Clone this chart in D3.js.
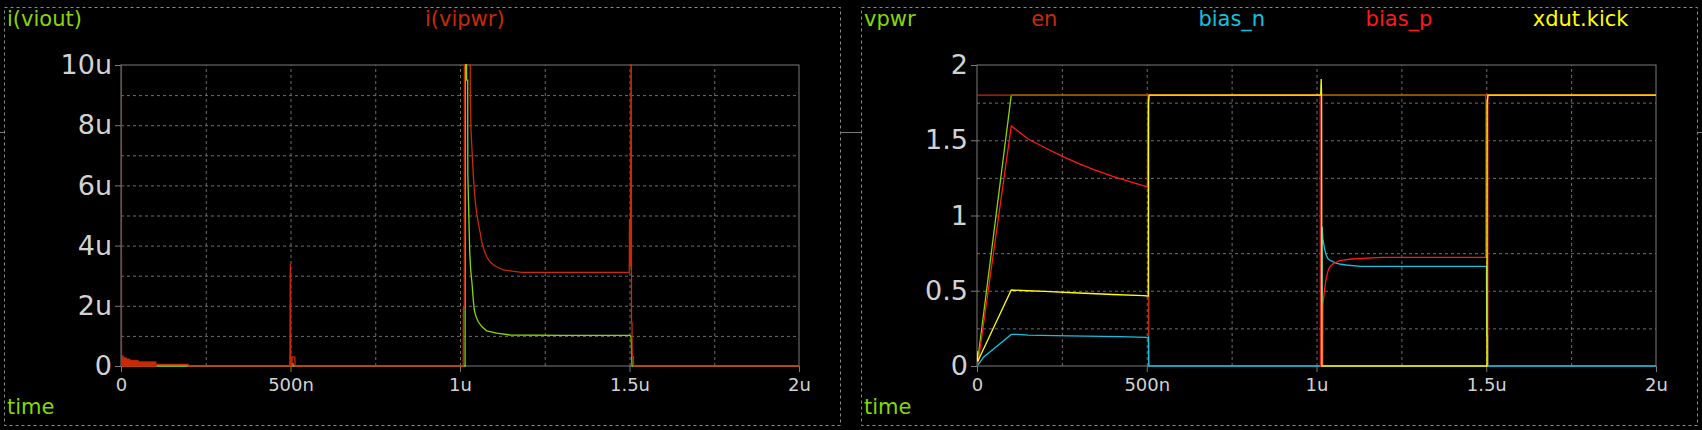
<!DOCTYPE html>
<html>
<head>
<meta charset="utf-8">
<script src="https://cdn.jsdelivr.net/npm/d3@7"></script>
<style>
  html, body { margin: 0; padding: 0; background: #000; }
  svg { display: block; }
  text { font-family: "DejaVu Sans", sans-serif; }
</style>
</head>
<body>
<svg id="chart" width="1702" height="430"></svg>
<script>
// ---------------- DATA (time in µs) ----------------
const xTicks = [0, 0.5, 1, 1.5, 2];
const xTickLabels = ["0", "500n", "1u", "1.5u", "2u"];
const xGrid = [0.25, 0.5, 0.75, 1, 1.25, 1.5, 1.75];

const leftYTicks = [0, 2, 4, 6, 8, 10];
const leftYTickLabels = ["0", "2u", "4u", "6u", "8u", "10u"];
const leftYGrid = [1, 2, 3, 4, 5, 6, 7, 8, 9];

const rightYTicks = [0, 0.5, 1, 1.5, 2];
const rightYTickLabels = ["0", "0.5", "1", "1.5", "2"];
const rightYGrid = [0.25, 0.5, 0.75, 1, 1.25, 1.5, 1.75];

const leftNames = ["i(viout)", "i(vipwr)"];
const rightNames = ["vpwr", "en", "bias_n", "bias_p", "xdut.kick"];

// left panel: currents in µA
const iViout = [[0,0],[0.5035,0],[0.504,0.09],[0.507,0.09],[0.5075,0],[1.015,0],[1.0156,12],[1.019,12],[1.0195,9.5],[1.0227,9.5],
  [1.023,6.4],[1.0265,4.79],[1.0286,3.8],[1.0316,3.19],[1.0354,2.75],[1.0392,2.19],[1.0422,1.86],[1.0472,1.64],[1.054,1.47],
  [1.064,1.31],[1.0788,1.17],[1.1083,1.09],[1.1475,1.03],[1.3,1.02],[1.5015,1.02],[1.505,0.95],[1.5074,0],[2,0]];
const iVipwr = [[0,0],[0.0001,12],[0.0012,12],[0.0015,0],[0.1032,0],[0.1035,0.05],[0.198,0.05],[0.199,0],[0.498,0],
  [0.4985,0.7],[0.4995,3.4],[0.5005,0],[0.5045,0],[0.5048,0.3],[0.513,0.3],[0.5135,0],[1.0095,0],[1.0098,1.93],[1.0127,1.93],
  [1.013,12],[1.03,12],[1.0304,9.08],[1.0324,7.84],[1.0363,6.98],[1.0392,6.35],[1.0422,5.85],[1.0451,5.46],[1.0493,5.07],
  [1.054,4.74],[1.059,4.46],[1.064,4.13],[1.0708,3.85],[1.0788,3.63],[1.0885,3.46],[1.1032,3.32],[1.1277,3.19],[1.182,3.11],
  [1.4994,3.11],[1.5,4.88],[1.5025,3.3],[1.505,12],[1.506,1.43],[1.5075,1.43],[1.5078,0.31],[1.5115,0.31],[1.512,0],[2,0]];
// fast ripple on i(vipwr) right after t=0 (envelope, drawn filled)
const iVipwrRipple = [[0,0.34],[0.0068,0.27],[0.0167,0.23],[0.0265,0.19],[0.051,0.14],[0.1032,0.14]];

// right panel: volts
const vpwr = [[0,0],[0.1009,1.8],[2,1.8]];
const en = [[0,1.8],[0.5055,1.8],[0.5057,0],[0.506,0],[0.5062,1.8],[1.5043,1.8],[1.5045,0],[1.5048,0],[1.505,1.8],[2,1.8]];
const biasN = [[0,0],[0.02,0.06],[0.1009,0.21],[0.12,0.21],[0.15,0.205],[0.27,0.2],[0.42,0.195],[0.5,0.19],[0.503,0.185],
  [0.5045,0.19],[0.506,0],[1.0165,0],[1.0167,0.925],[1.0186,0.848],[1.0235,0.78],[1.0284,0.737],[1.0333,0.715],[1.0382,0.704],
  [1.048,0.693],[1.0578,0.684],[1.0725,0.676],[1.0873,0.671],[1.1294,0.662],[1.5005,0.662],[1.5015,0.2],[1.5039,0.2],[1.5042,0],[2,0]];
const biasP = [[0,0],[0.005,0.05],[0.101,1.595],[0.15,1.51],[0.2,1.45],[0.25,1.395],[0.3,1.345],[0.35,1.3],[0.4,1.26],
  [0.45,1.225],[0.502,1.19],
  [0.5035,1.8],[1.011,1.8],[1.0116,0],[1.018,0],[1.0186,0.399],[1.0235,0.505],[1.0285,0.583],[1.0333,0.627],[1.0382,0.656],
  [1.048,0.678],[1.0676,0.7],[1.102,0.711],[1.195,0.722],[1.4985,0.722],[1.499,1.8],[2,1.8]];
const kick = [[0,0.1],[0.002,0.03],[0.1009,0.505],[0.15,0.5],[0.2,0.496],[0.3,0.485],[0.4,0.475],[0.49,0.467],[0.502,0.465],
  [0.5045,0.465],[0.505,1.75],[0.507,1.8],[1.0125,1.8],[1.0138,1.907],[1.015,1.8],[1.0157,0],[1.502,0],[1.5025,1.75],[1.505,1.8],[2,1.8]];

// ---------------- STYLE ----------------
const C = {
  green: "#86d800", darkRed: "#c62a06", cyan: "#14c0e2", red: "#ff1818", yellow: "#ffff00",
  tick: "#d2d2d2", frame: "#7a7a7a", grid: "#6e6e6e", border: "#8a8a8a"
};

const svg = d3.select("#chart");
svg.append("rect").attr("width", 1702).attr("height", 430).attr("fill", "#000");

// panel borders (dashed)
const panels = [{x: 4, y: 7, w: 836, h: 418}, {x: 861, y: 7, w: 836, h: 418}];
panels.forEach(p => {
  svg.append("rect").attr("x", p.x + 0.5).attr("y", p.y + 0.5).attr("width", p.w).attr("height", p.h)
    .attr("fill", "none").attr("stroke", C.border).attr("stroke-width", 1).attr("stroke-dasharray", "3,3");
});
// splitter handles
[[0, 4], [840, 861], [1697, 1702]].forEach(([a, b]) => {
  svg.append("line").attr("x1", a).attr("x2", b).attr("y1", 132.5).attr("y2", 132.5)
    .attr("stroke", C.frame).attr("stroke-width", 1);
});

function drawPanel(cfg) {
  const {px, x0, x1, yTop, yBot, yDomain, yTicks, yLabels, yGrid, names, colors, series, id} = cfg;
  const x = d3.scaleLinear().domain([0, 2]).range([x0, x1]);
  const y = d3.scaleLinear().domain(yDomain).range([yBot, yTop]);
  const g = svg.append("g");

  // grid
  g.append("g").attr("transform", `translate(0,${yBot})`)
    .call(d3.axisBottom(x).tickValues(xGrid).tickSize(-(yBot - yTop)).tickFormat(""))
    .call(s => s.select(".domain").remove())
    .call(s => s.selectAll("line").attr("stroke", C.grid).attr("stroke-dasharray", "3,3"));
  g.append("g").attr("transform", `translate(${x0},0)`)
    .call(d3.axisLeft(y).tickValues(yGrid).tickSize(-(x1 - x0)).tickFormat(""))
    .call(s => s.select(".domain").remove())
    .call(s => s.selectAll("line").attr("stroke", C.grid).attr("stroke-dasharray", "3,3"));

  // frame
  g.append("rect").attr("x", x0).attr("y", yTop).attr("width", x1 - x0).attr("height", yBot - yTop)
    .attr("fill", "none").attr("stroke", C.frame).attr("stroke-width", 1);

  // axes with labels
  const xa = g.append("g").attr("transform", `translate(0,${yBot})`)
    .call(d3.axisBottom(x).tickValues(xTicks).tickSize(6).tickPadding(6).tickFormat((d, i) => xTickLabels[i]));
  xa.select(".domain").remove();
  xa.selectAll("line").attr("stroke", C.frame);
  xa.selectAll("text").attr("fill", C.tick).style("font-size", "18px").style("font-family", "DejaVu Sans");

  const ya = g.append("g").attr("transform", `translate(${x0},0)`)
    .call(d3.axisLeft(y).tickValues(yTicks).tickSize(6).tickPadding(3).tickFormat((d, i) => yLabels[i]));
  ya.select(".domain").remove();
  ya.selectAll("line").attr("stroke", C.frame);
  ya.selectAll("text").attr("fill", C.tick).style("font-size", "27px").style("font-family", "DejaVu Sans");

  // clip
  svg.append("clipPath").attr("id", id).append("rect")
    .attr("x", x0).attr("y", yTop - 1).attr("width", x1 - x0 + 1).attr("height", yBot - yTop + 2);
  const plot = g.append("g").attr("clip-path", `url(#${id})`);
  const line = d3.line().x(d => x(d[0])).y(d => y(d[1]));
  series.forEach(s => {
    if (s.area) {
      plot.append("path").datum(s.area)
        .attr("d", d3.area().x(d => x(d[0])).y0(y(0)).y1(d => y(d[1])).curve(d3.curveStepAfter))
        .attr("fill", s.color).attr("stroke", s.color).attr("stroke-width", 0.8);
    }
    plot.append("path").datum(s.data).attr("d", line)
      .attr("fill", "none").attr("stroke", s.color).attr("stroke-width", 1.3);
  });

  // legend
  const step = 836 / names.length;
  names.forEach((n, i) => {
    svg.append("text").attr("x", px + 3 + i * step).attr("y", 26).text(n)
      .attr("fill", colors[i]).style("font-size", "21px");
  });
  svg.append("text").attr("x", px + 3).attr("y", 414).text("time")
    .attr("fill", C.green).style("font-size", "21px");
}

drawPanel({
  id: "clipL", px: 4, x0: 121, x1: 799, yTop: 65, yBot: 366, yDomain: [0, 10],
  yTicks: leftYTicks, yLabels: leftYTickLabels, yGrid: leftYGrid,
  names: leftNames, colors: [C.green, C.darkRed],
  series: [
    {data: iViout, color: C.green},
    {data: iVipwr, color: C.darkRed, area: iVipwrRipple}
  ]
});

drawPanel({
  id: "clipR", px: 861, x0: 977, x1: 1656, yTop: 65, yBot: 366, yDomain: [0, 2],
  yTicks: rightYTicks, yLabels: rightYTickLabels, yGrid: rightYGrid,
  names: rightNames, colors: [C.green, C.darkRed, C.cyan, C.red, C.yellow],
  series: [
    {data: vpwr, color: C.green},
    {data: en, color: C.darkRed},
    {data: biasN, color: C.cyan},
    {data: biasP, color: C.red},
    {data: kick, color: C.yellow}
  ]
});
</script>
</body>
</html>
